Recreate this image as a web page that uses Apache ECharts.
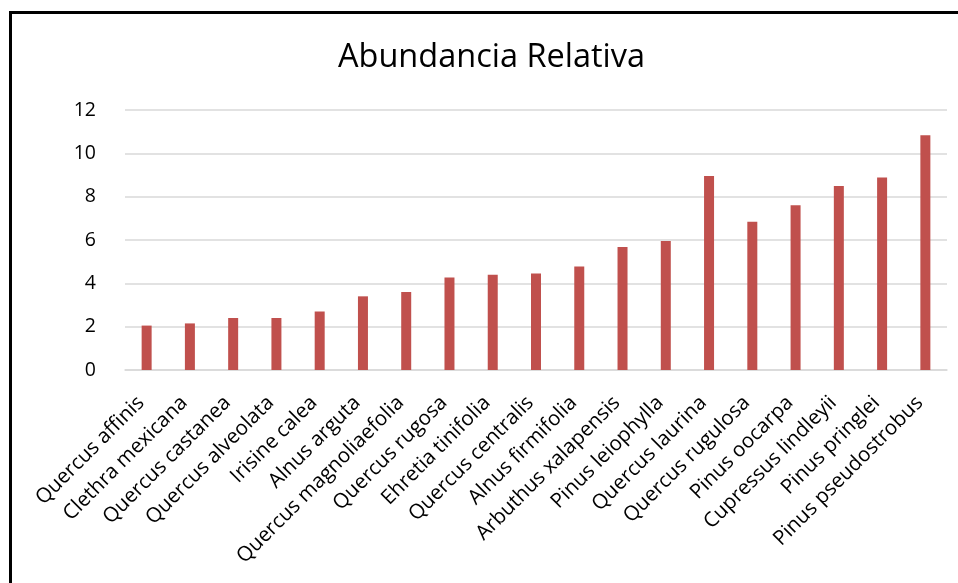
<!DOCTYPE html>
<html>
<head>
<meta charset="utf-8">
<script src="https://cdn.jsdelivr.net/npm/echarts@6/dist/echarts.min.js"></script>
<style>
html,body{margin:0;padding:0;background:#fff;}
#frame{position:absolute;left:9px;top:11px;width:960px;height:600px;border-left:3px solid #000;border-top:3px solid #000;}
#main{position:absolute;left:0;top:0;width:958px;height:583px;}
</style>
</head>
<body>
<div id="frame"></div>
<div id="main"></div>
<script>
// especies (eje x)
var especies = ['Quercus affinis','Clethra mexicana','Quercus castanea','Quercus alveolata','Irisine calea',
	'Alnus arguta','Quercus magnoliaefolia','Quercus rugosa','Ehretia tinifolia','Quercus centralis',
	'Alnus firmifolia','Arbuthus xalapensis','Pinus leiophylla','Quercus laurina','Quercus rugulosa',
	'Pinus oocarpa','Cupressus lindleyii','Pinus pringlei','Pinus pseudostrobus'];
// abundancia relativa
var abundancia = [2.05,2.15,2.4,2.4,2.7,3.4,3.6,4.27,4.4,4.45,4.78,5.68,5.95,8.95,6.84,7.6,8.49,8.89,10.83];
var yTicks = [0,2,4,6,8,10,12];

var fuente = 'Open Sans';
var myChart = echarts.init(document.getElementById('main'));
var option = {
	animation: false,
	title: {
		text: 'Abundancia Relativa',
		left: 338,
		top: 41,
		padding: 0,
		textStyle: {fontFamily: fuente, fontSize: 32.5, fontWeight: 'normal', color: '#000'}
	},
	grid: {left: 125, right: 11, top: 110, bottom: 213},
	xAxis: {
		type: 'category',
		data: especies,
		axisLine: {lineStyle: {color: '#d9d9d9', width: 1.5}},
		axisTick: {show: false},
		axisLabel: {interval: 0, rotate: 45, margin: 24, padding: [0, 8, 0, 0],
			fontFamily: fuente, fontSize: 20.5, color: '#000'}
	},
	yAxis: {
		type: 'value',
		min: yTicks[0],
		max: yTicks[yTicks.length - 1],
		interval: 2,
		axisLine: {show: false},
		axisTick: {show: false},
		splitLine: {lineStyle: {color: '#d9d9d9', width: 1.5}},
		axisLabel: {margin: 29, fontFamily: fuente, fontSize: 19.5, color: '#000'}
	},
	series: [{
		name: 'Abundancia Relativa',
		type: 'bar',
		data: abundancia,
		barWidth: 10,
		itemStyle: {color: '#C0504D'}
	}]
};
myChart.setOption(option);
</script>
</body>
</html>
